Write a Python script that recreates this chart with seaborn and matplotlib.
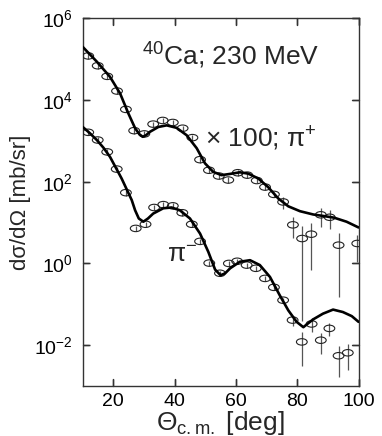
import matplotlib
matplotlib.use('Agg')
import matplotlib.pyplot as plt
import seaborn as sns
import pandas as pd
from matplotlib.path import Path
from matplotlib.transforms import Affine2D
from matplotlib.ticker import FixedLocator, LogFormatterSciNotation, NullLocator

# pi+ data (x100)
pip_theta = [11.8, 14.9, 18.0, 21.2, 24.1, 26.8, 30.1, 33.0, 36.1, 39.4, 42.6, 45.8, 48.3, 51.2,
             54.4, 57.5, 60.6, 63.7, 66.8, 69.5, 72.4, 75.4, 78.6, 81.6, 84.6, 87.7, 90.6, 93.5, 99.6]
pip_xs = [1.2e5, 6.9e4, 3.8e4, 1.66e4, 5.9e3, 1.78e3, 1.48e3, 2.57e3, 3.16e3, 2.82e3, 2.04e3, 1.2e3,
          347, 191, 138, 110, 166, 145, 107, 74, 49, 32, 8.8, 4.07, 5.2, 15.5, 13.5, 2.8, 3.08]
pip_err = [1.8e4, 1.0e4, 5.7e3, 2.5e3, 900, 270, 220, 390, 470, 420, 310, 180, 52, 29, 21, 17,
           25, 22, 16, 11, 7.4, 11, 4.7, 4.03, 4.5, 7.7, 6.5, 2.65, 2.0]

# pi- data
pim_theta = [11.8, 14.9, 18.0, 21.1, 24.1, 27.3, 30.5, 33.3, 36.3, 39.4, 42.5, 45.6, 48.3, 51.3,
             54.8, 57.7, 60.4, 63.5, 66.5, 69.5, 72.4, 75.4, 78.5, 81.5, 84.7, 87.7, 90.5, 93.5, 96.5]
pim_xs = [1620, 1050, 537, 204, 54, 7.2, 9.1, 23.4, 27.5, 25.7, 17.4, 9.1, 3.47, 1.02, 0.575, 1.0,
          1.13, 0.91, 0.76, 0.43, 0.26, 0.126, 0.041, 0.012, 0.033, 0.0132, 0.0257, 0.0055, 0.0065]
pim_err = [240, 160, 80, 31, 8, 1.1, 1.4, 3.5, 4.1, 3.9, 2.6, 1.4, 0.52, 0.15, 0.086, 0.15, 0.17,
           0.14, 0.11, 0.065, 0.04, 0.019, 0.012, 0.009, 0.012, 0.007, 0.0085, 0.0038, 0.004]

# theory curves
pip_curve_theta = [10, 14.6, 18.9, 22.2, 24.9, 27.1, 28.5, 29.6, 30.7, 31.9, 34.7, 37.4, 40.6, 43.9,
                   47.2, 49.9, 52.6, 55.3, 58.0, 61.3, 64.0, 67.3, 70.5, 73.8, 77.1, 80.9, 85.2,
                   89.6, 92.0, 96.1, 100]
pip_curve = [2.0e5, 8.7e4, 3.7e4, 1.45e4, 4.7e3, 2.04e3, 1.45e3, 1.26e3, 1.38e3, 1.66e3, 2.19e3,
             2.4e3, 2.09e3, 1.38e3, 661, 282, 174, 145, 155, 170, 158, 120, 74, 39, 25, 19, 15.8,
             14.1, 13.2, 10.5, 7.6]
pim_curve_theta = [10, 12.3, 14.6, 16.8, 18.9, 22.7, 26.0, 27.1, 28.3, 29.8, 31.3, 33.0, 36.3, 39.0,
                   41.7, 45.0, 48.3, 51.0, 53.2, 55.0, 56.5, 58.1, 61.3, 64.6, 67.8, 71.1, 74.3,
                   77.1, 79.8, 82.0, 83.5, 85.2, 88.4, 91.7, 94.9, 97.8, 100]
pim_curve = [2190, 1550, 1050, 676, 407, 120, 35.5, 20, 12.6, 10.5, 12.6, 16.6, 22.4, 23.4, 20,
             12.6, 5.37, 1.91, 0.708, 0.513, 0.575, 0.759, 1.10, 1.20, 0.912, 0.468, 0.166,
             0.0708, 0.0372, 0.0275, 0.0339, 0.0427, 0.0589, 0.0741, 0.0646, 0.0513, 0.0372]

x_ticks = [20, 40, 60, 80, 100]
y_ticks = [1e-2, 1, 1e2, 1e4, 1e6]

sns.set_theme(style='ticks')
plt.rcParams['font.family'] = ['Liberation Sans', 'DejaVu Sans']
plt.rcParams['mathtext.fontset'] = 'custom'
plt.rcParams['mathtext.rm'] = 'Liberation Sans'
plt.rcParams['mathtext.it'] = 'Liberation Sans'

fig = plt.figure(figsize=(3.82, 4.36), dpi=100)
ax = fig.add_axes([0.2165, 0.1147, 0.722, 0.8433])

# open ellipse marker
ell = Path.unit_circle().transformed(Affine2D().scale(1.0, 0.6))

for th, v, e in [(pip_theta, pip_xs, pip_err), (pim_theta, pim_xs, pim_err)]:
    ax.errorbar(th, v, yerr=e, fmt='none', ecolor='#555555', elinewidth=0.9, capsize=0)
    sns.scatterplot(x=th, y=v, marker=ell, s=60, facecolor='none',
                    edgecolor='#222222', linewidth=0.8, ax=ax, zorder=3)

for th, v in [(pip_curve_theta, pip_curve), (pim_curve_theta, pim_curve)]:
    df = pd.DataFrame({'theta': th, 'xs': v})
    sns.lineplot(data=df, x='theta', y='xs', color='black', linewidth=1.9,
                 estimator=None, sort=False, ax=ax, zorder=4)

ax.set_yscale('log')
ax.set_xlim(10, 100)
ax.set_ylim(1e-3, 1e6)
ax.xaxis.set_major_locator(FixedLocator(x_ticks))
ax.yaxis.set_major_locator(FixedLocator(y_ticks))
ax.yaxis.set_major_formatter(LogFormatterSciNotation())
ax.yaxis.set_minor_locator(NullLocator())
ax.xaxis.set_minor_locator(NullLocator())
ax.tick_params(which='major', direction='in', length=5, width=1.0,
               bottom=True, top=True, left=True, right=True, labelsize=14,
               color='#333333', labelcolor='black')
ax.tick_params(axis='y', pad=7)
ax.tick_params(axis='x', pad=5)
for s in ax.spines.values():
    s.set_linewidth(1.0)
    s.set_color('#333333')

# inward tick marks drawn explicitly on all four sides at the tick positions
xt = ax.get_xaxis_transform()
yt = ax.get_yaxis_transform()
for t in x_ticks:
    ax.plot([t, t], [0, 0.018], transform=xt, color='#333333', lw=1.0, clip_on=False, zorder=6)
    ax.plot([t, t], [1, 0.982], transform=xt, color='#333333', lw=1.0, clip_on=False, zorder=6)
for t in y_ticks:
    ax.plot([0, 0.024], [t, t], transform=yt, color='#333333', lw=1.0, clip_on=False, zorder=6)
    ax.plot([1, 0.976], [t, t], transform=yt, color='#333333', lw=1.0, clip_on=False, zorder=6)

ax.set_xlabel(r'$\mathrm{\Theta}_{\mathrm{c.m.}}$ [deg]', fontsize=19, labelpad=-1)
ax.set_ylabel('dσ/dΩ [mb/sr]', fontsize=16, labelpad=2)

ax.text(29.3, 10**4.86, r'$^{40}$Ca; 230 MeV', fontsize=19, ha='left', va='baseline')
ax.text(49.9, 10**2.85, r'$\times$ 100; π$^{+}$', fontsize=19, ha='left', va='baseline')
ax.text(37.5, 10**0.03, r'π$^{-}$', fontsize=19, ha='left', va='baseline')

fig.savefig('out.png', dpi=100)
